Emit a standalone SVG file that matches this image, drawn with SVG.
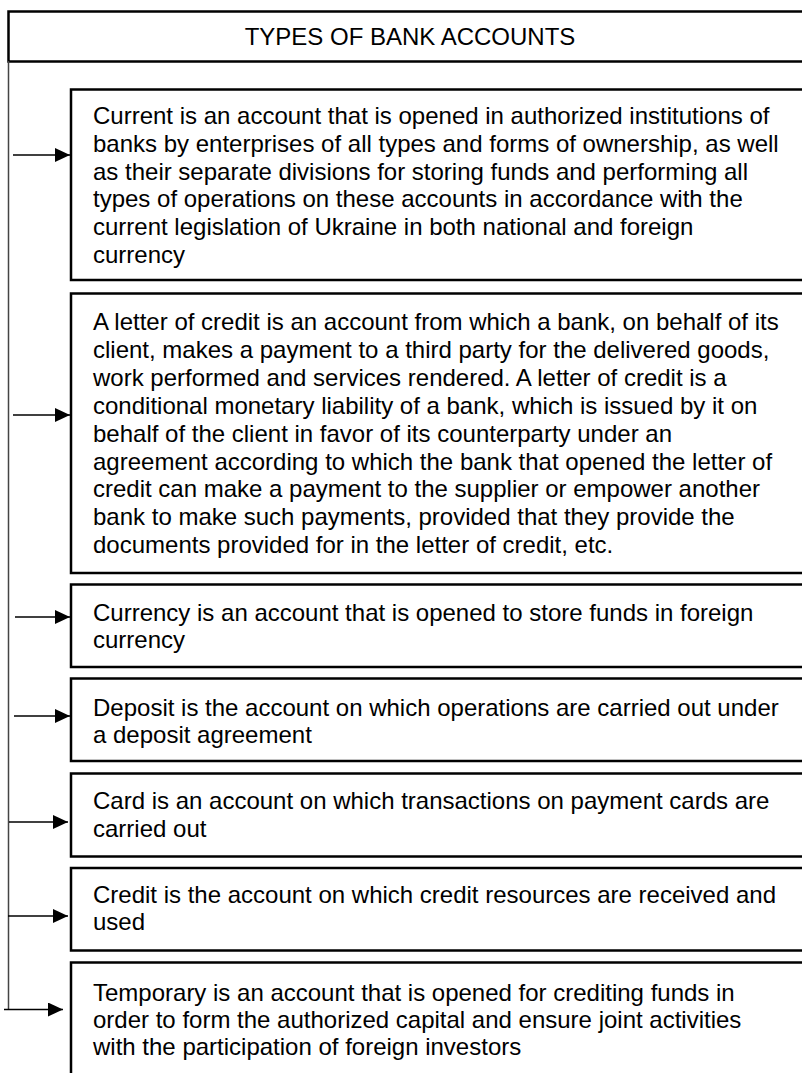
<svg xmlns="http://www.w3.org/2000/svg" width="802" height="1073" viewBox="0 0 802 1073">
<style>
.box{fill:#fff;stroke:#000;stroke-width:2.5}
.t{font-family:"Liberation Sans",Arial,sans-serif;font-size:24px;fill:#000}
.conn{stroke:#000;stroke-width:1.4;fill:none}
.spine{stroke:#444;stroke-width:1.5;fill:none}
</style>
<defs>
<marker id="ah" viewBox="0 0 15 14" refX="15" refY="7" markerWidth="15" markerHeight="14" markerUnits="userSpaceOnUse" orient="auto">
<path d="M0,0 L15,7 L0,14 z" fill="#000"/>
</marker>
</defs>
<rect width="802" height="1073" fill="#fff"/>
<g id="title">
<rect class="box" x="8.5" y="11.5" width="820" height="50"/>
<text class="t" x="410" y="45" text-anchor="middle">TYPES OF BANK ACCOUNTS</text>
</g>
<g id="connectors">
<line class="spine" x1="8.5" y1="61" x2="8.5" y2="1009.5"/>
<line class="conn" x1="13" y1="155" x2="70" y2="155" marker-end="url(#ah)"/>
<line class="conn" x1="13" y1="415" x2="70" y2="415" marker-end="url(#ah)"/>
<line class="conn" x1="15" y1="617" x2="70" y2="617" marker-end="url(#ah)"/>
<line class="conn" x1="14" y1="716" x2="70" y2="716" marker-end="url(#ah)"/>
<line class="conn" x1="9" y1="822" x2="68" y2="822" marker-end="url(#ah)"/>
<line class="conn" x1="8" y1="916" x2="68" y2="916" marker-end="url(#ah)"/>
<line class="conn" x1="4" y1="1009.5" x2="63" y2="1009.5" marker-end="url(#ah)"/>
</g>
<g id="current">
<rect class="box" x="71" y="89.5" width="760" height="190.5"/>
<text class="t" x="93"><tspan x="93" y="124">Current is an account that is opened in authorized institutions of</tspan><tspan x="93" y="152">banks by enterprises of all types and forms of ownership, as well</tspan><tspan x="93" y="180">as their separate divisions for storing funds and performing all</tspan><tspan x="93" y="207">types of operations on these accounts in accordance with the</tspan><tspan x="93" y="235">current legislation of Ukraine in both national and foreign</tspan><tspan x="93" y="263">currency</tspan></text>
</g>
<g id="letter-of-credit">
<rect class="box" x="71" y="293.5" width="760" height="279.5"/>
<text class="t" x="93"><tspan x="93" y="330">A letter of credit is an account from which a bank, on behalf of its</tspan><tspan x="93" y="358">client, makes a payment to a third party for the delivered goods,</tspan><tspan x="93" y="386">work performed and services rendered. A letter of credit is a</tspan><tspan x="93" y="414">conditional monetary liability of a bank, which is issued by it on</tspan><tspan x="93" y="442">behalf of the client in favor of its counterparty under an</tspan><tspan x="93" y="470">agreement according to which the bank that opened the letter of</tspan><tspan x="93" y="497">credit can make a payment to the supplier or empower another</tspan><tspan x="93" y="525">bank to make such payments, provided that they provide the</tspan><tspan x="93" y="553">documents provided for in the letter of credit, etc.</tspan></text>
</g>
<g id="currency">
<rect class="box" x="71" y="584.5" width="760" height="82.5"/>
<text class="t" x="93"><tspan x="93" y="620.5">Currency is an account that is opened to store funds in foreign</tspan><tspan x="93" y="647.5">currency</tspan></text>
</g>
<g id="deposit">
<rect class="box" x="71" y="678.5" width="760" height="82.5"/>
<text class="t" x="93"><tspan x="93" y="715.5">Deposit is the account on which operations are carried out under</tspan><tspan x="93" y="742.5">a deposit agreement</tspan></text>
</g>
<g id="card">
<rect class="box" x="71" y="773.5" width="760" height="83"/>
<text class="t" x="93"><tspan x="93" y="809">Card is an account on which transactions on payment cards are</tspan><tspan x="93" y="836.5">carried out</tspan></text>
</g>
<g id="credit">
<rect class="box" x="71" y="868" width="760" height="82.5"/>
<text class="t" x="93"><tspan x="93" y="903">Credit is the account on which credit resources are received and</tspan><tspan x="93" y="930">used</tspan></text>
</g>
<g id="temporary">
<rect class="box" x="71" y="962.5" width="760" height="130"/>
<text class="t" x="93"><tspan x="93" y="1001">Temporary is an account that is opened for crediting funds in</tspan><tspan x="93" y="1027.5">order to form the authorized capital and ensure joint activities</tspan><tspan x="93" y="1054.5">with the participation of foreign investors</tspan></text>
</g>
</svg>
